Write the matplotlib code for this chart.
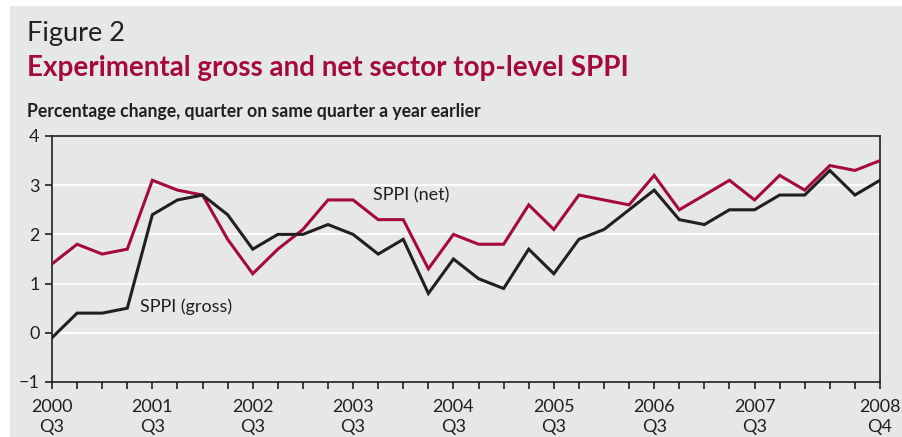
import matplotlib
matplotlib.use("Agg")
from matplotlib import pyplot as plt
from matplotlib.patches import Rectangle

plt.rcParams['font.family'] = ['Lato', 'DejaVu Sans']

# quarters 2000 Q3 .. 2008 Q4
quarters = ['2000 Q3', '2000 Q4', '2001 Q1', '2001 Q2', '2001 Q3', '2001 Q4',
            '2002 Q1', '2002 Q2', '2002 Q3', '2002 Q4', '2003 Q1', '2003 Q2',
            '2003 Q3', '2003 Q4', '2004 Q1', '2004 Q2', '2004 Q3', '2004 Q4',
            '2005 Q1', '2005 Q2', '2005 Q3', '2005 Q4', '2006 Q1', '2006 Q2',
            '2006 Q3', '2006 Q4', '2007 Q1', '2007 Q2', '2007 Q3', '2007 Q4',
            '2008 Q1', '2008 Q2', '2008 Q3', '2008 Q4']

sppi_gross = [-0.1, 0.4, 0.4, 0.5, 2.4, 2.7, 2.8, 2.4, 1.7, 2.0, 2.0, 2.2,
              2.0, 1.6, 1.9, 0.8, 1.5, 1.1, 0.9, 1.7, 1.2, 1.9, 2.1, 2.5,
              2.9, 2.3, 2.2, 2.5, 2.5, 2.8, 2.8, 3.3, 2.8, 3.1]
sppi_net = [1.4, 1.8, 1.6, 1.7, 3.1, 2.9, 2.8, 1.9, 1.2, 1.7, 2.1, 2.7,
            2.7, 2.3, 2.3, 1.3, 2.0, 1.8, 1.8, 2.6, 2.1, 2.8, 2.7, 2.6,
            3.2, 2.5, 2.8, 3.1, 2.7, 3.2, 2.9, 3.4, 3.3, 3.5]

xlabels = {0: '2000\nQ3', 4: '2001\nQ3', 8: '2002\nQ3', 12: '2003\nQ3',
           16: '2004\nQ3', 20: '2005\nQ3', 24: '2006\nQ3', 28: '2007\nQ3',
           33: '2008\nQ4'}

RED = '#a50a3c'
DARK = '#231f20'
BG = '#e6e7e9'

fig = plt.figure(figsize=(9.02, 4.37), dpi=100)
fig.patches.append(Rectangle((10 / 902, 0), 1, 1 - 6 / 437, transform=fig.transFigure,
                             facecolor=BG, edgecolor='none', zorder=-10))

ax = fig.add_axes([52 / 902, 1 - 382 / 437, 828 / 902, 246 / 437])
ax.set_facecolor(BG)
x = list(range(len(quarters)))

for yv in [0, 1, 2, 3]:
    ax.axhline(yv, color='white', lw=1.3, zorder=1)

ax.plot(x, sppi_net, color=RED, lw=2.2, zorder=3, solid_joinstyle='miter')
ax.plot(x, sppi_gross, color=DARK, lw=2.2, zorder=3, solid_joinstyle='miter')

ax.set_xlim(0, len(quarters) - 1)
ax.set_ylim(-1, 4)
ax.set_yticks([-1, 0, 1, 2, 3, 4])
ax.set_yticklabels(['\u22121', '0', '1', '2', '3', '4'])
ax.set_xticks(x)
ax.set_xticklabels([xlabels.get(i, '') for i in x], linespacing=1.35)
ax.tick_params(axis='both', colors=DARK, labelsize=13, length=5, width=1.2)
ax.tick_params(axis='x', pad=7)
ax.tick_params(axis='y', pad=4)
for s in ax.spines.values():
    s.set_color(DARK)
    s.set_linewidth(1.2)

ax.text(12.8, 2.62, 'SPPI (net)', fontsize=13, color=DARK, va='bottom', ha='left')
ax.text(3.5, 0.52, 'SPPI (gross)', fontsize=13, color=DARK, va='center', ha='left')

fig.text(27 / 902, 1 - 33 / 437, 'Figure 2', fontsize=19.5, color=DARK, va='center')
fig.text(27 / 902, 1 - 68 / 437, 'Experimental gross and net sector top-level SPPI',
         fontsize=20, color=RED, fontweight='bold', va='center')
fig.text(27 / 902, 1 - 112 / 437, 'Percentage change, quarter on same quarter a year earlier',
         fontsize=12.7, color=DARK, fontweight='bold', va='center')

fig.savefig('out.png', dpi=100, facecolor='white')
